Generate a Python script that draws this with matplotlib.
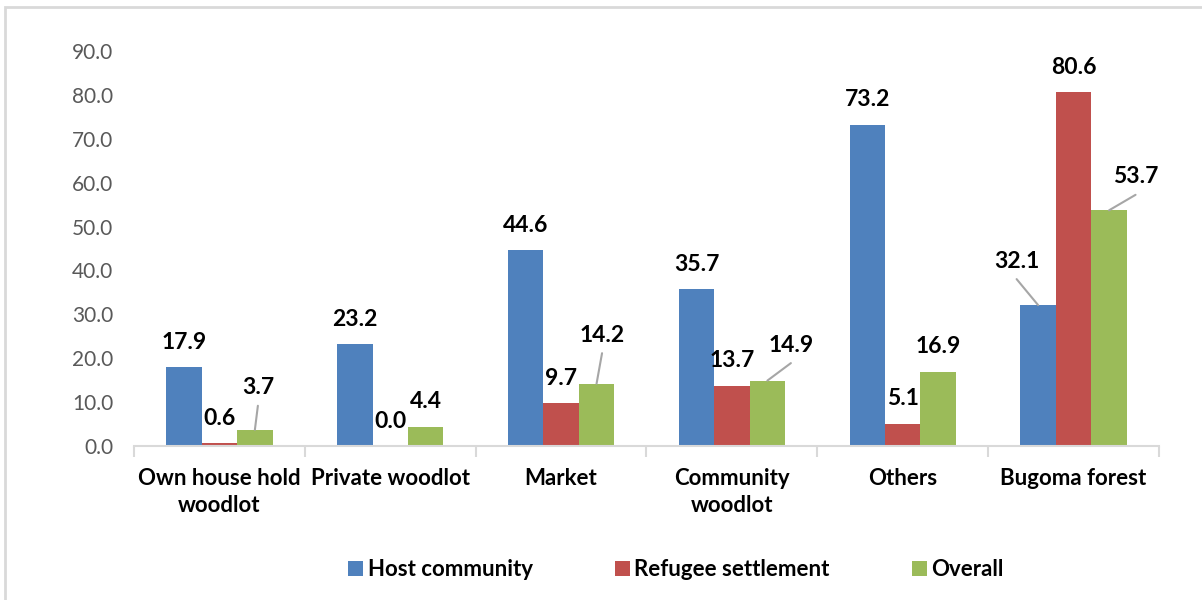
import numpy as np
import matplotlib
matplotlib.use("Agg")
import matplotlib.pyplot as plt
from matplotlib.patches import Rectangle

plt.rcParams['font.family'] = ['Lato', 'DejaVu Sans']

categories = ["Own house hold\nwoodlot", "Private woodlot", "Market",
              "Community\nwoodlot", "Others", "Bugoma forest"]
host = [17.9, 23.2, 44.6, 35.7, 73.2, 32.1]
refugee = [0.6, 0.0, 9.7, 13.7, 5.1, 80.6]
overall = [3.7, 4.4, 14.2, 14.9, 16.9, 53.7]
series_names = ["Host community", "Refugee settlement", "Overall"]
colors = ["#4F81BD", "#C0504D", "#9BBB59"]
yticks = np.arange(0, 91, 10)

# labels that were dragged off the bar and get a leader line: (series, category) -> (dx, dy) in px
moved = {(2, 0): (3, 42), (2, 2): (5.5, 48.5), (2, 3): (23.5, 35.5),
         (0, 5): (-21.5, 44), (2, 5): (26.5, 33.5)}

PX = 72 / 100.0  # points per pixel at dpi 100

fig = plt.figure(figsize=(12.02, 6.0), dpi=100)
ax = fig.add_axes([134 / 1202, 1 - 446 / 600, (1159 - 134) / 1202, (446 - 51) / 600])

# outer chart border
fig.patches.append(Rectangle((5 / 1202, -0.1), 1.2, 1 - 7 / 600 + 0.1,
                             transform=fig.transFigure, fill=False,
                             edgecolor="#D9D9D9", linewidth=2))

x = np.arange(len(categories))
w = 0.2076
handles = []
for i, vals in enumerate([host, refugee, overall]):
    xs = x + (i - 1) * w
    b = ax.bar(xs, vals, width=w, color=colors[i], label=series_names[i], zorder=2)
    handles.append(b)
    for j, (xx, v) in enumerate(zip(xs, vals)):
        txt = f"{v:.1f}"
        if (i, j) in moved:
            dx, dy = moved[(i, j)]
            ax.annotate(txt, xy=(xx, v), xytext=(dx * PX, dy * PX), textcoords="offset points",
                        ha="center", va="center", fontsize=16.5, fontweight="bold",
                        color="black", annotation_clip=False)
            ax.annotate("", xy=(xx, v), xytext=(dx * PX, (dy - 18) * PX), textcoords="offset points",
                        arrowprops=dict(arrowstyle="-", color="#A6A6A6", lw=1.5,
                                        shrinkA=0, shrinkB=0),
                        annotation_clip=False)
        else:
            ax.annotate(txt, xy=(xx, v), xytext=(0, 25 * PX), textcoords="offset points",
                        ha="center", va="center", fontsize=16.5, fontweight="bold",
                        color="black", annotation_clip=False)

ax.set_xlim(-0.5, len(categories) - 0.5)
ax.set_ylim(0, 90)
ax.set_yticks(yticks)
ax.set_yticklabels([f"{t:.1f}" for t in yticks], fontsize=15, color="#595959")
ax.tick_params(axis="y", length=0, pad=15)

ax.set_xticks(x)
ax.set_xticklabels(categories, fontsize=16, fontweight="bold", color="black", linespacing=1.36)
ax.tick_params(axis="x", length=0, pad=16)
# boundary ticks between categories
ax.set_xticks(np.arange(len(categories) + 1) - 0.5, minor=True)
ax.tick_params(axis="x", which="minor", length=8, width=1.5, color="#D9D9D9", direction="out")

for s in ["left", "right", "top"]:
    ax.spines[s].set_visible(False)
ax.spines["bottom"].set_color("#D9D9D9")
ax.spines["bottom"].set_linewidth(1.5)

leg = fig.legend(handles=handles, loc="center", bbox_to_anchor=(676 / 1202, 1 - 570 / 600),
                 ncol=3, frameon=False, handlelength=0.68, handleheight=0.68,
                 handletextpad=0.2, columnspacing=3.7,
                 prop={"size": 16, "weight": "bold"})

fig.savefig("out.png", dpi=100)
